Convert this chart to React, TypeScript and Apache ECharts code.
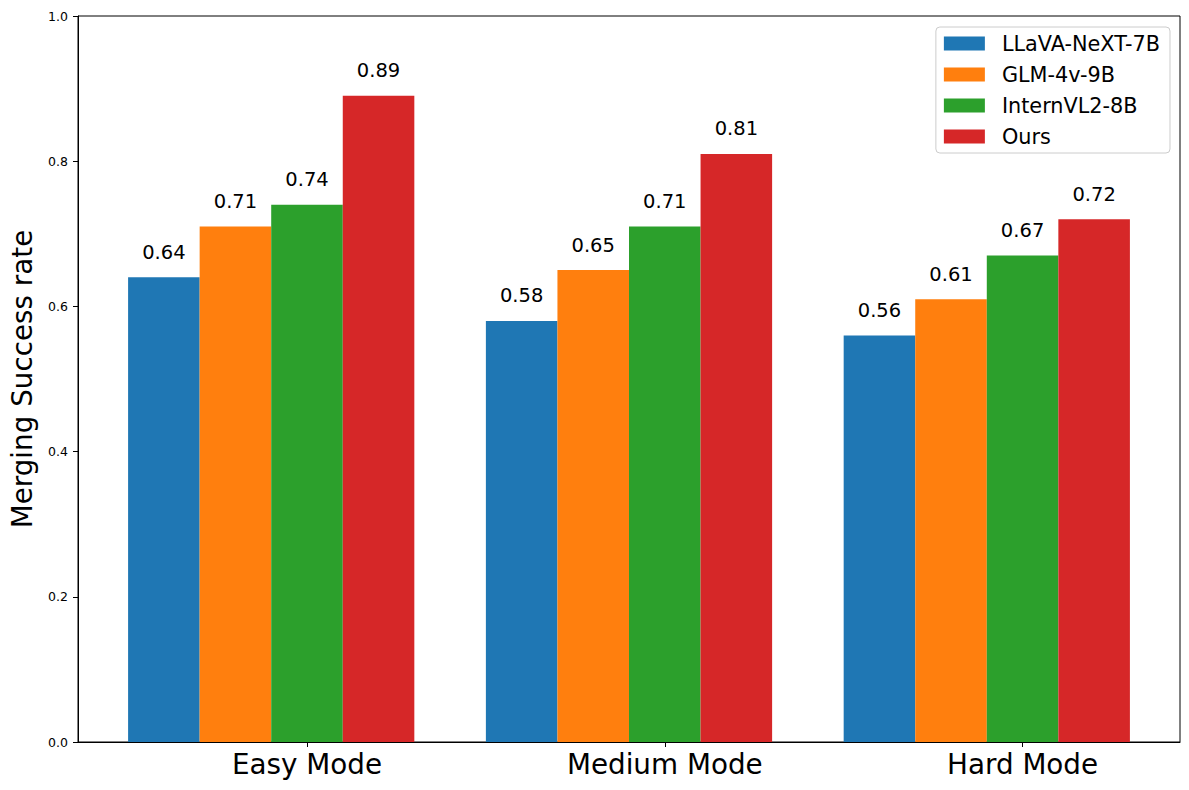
import React, { useEffect, useRef } from "react";
import * as echarts from "echarts";

const categories = ["Easy Mode", "Medium Mode", "Hard Mode"];
const seriesNames = ["LLaVA-NeXT-7B", "GLM-4v-9B", "InternVL2-8B", "Ours"];
const llavaValues = [0.64, 0.58, 0.56];
const glmValues = [0.71, 0.65, 0.61];
const internValues = [0.74, 0.71, 0.67];
const oursValues = [0.89, 0.81, 0.72];
const seriesColors = ["#1f77b4", "#ff7f0e", "#2ca02c", "#d62728"];
const barOffsets = [-0.4, -0.2, 0, 0.2];
const barWidthUnits = 0.2;
const yTicks = [0, 0.2, 0.4, 0.6, 0.8, 1.0];

const FONT = "DejaVu Sans";

export default function App() {
  const ref = useRef<HTMLDivElement>(null);
  useEffect(() => {
    document.body.style.margin = "0";
    if (!ref.current) return;
    const chart = echarts.init(ref.current, null, { renderer: "svg" });
    const allValues = [llavaValues, glmValues, internValues, oursValues];
    const series = allValues.map((vals, k) => ({
      type: "custom",
      name: seriesNames[k],
      itemStyle: { color: seriesColors[k] },
      data: vals.map((v, i) => [i + barOffsets[k], v]),
      renderItem: (params: any, api: any) => {
        const x = api.value(0);
        const y = api.value(1);
        const p0 = api.coord([x - barWidthUnits / 2, y]);
        const p1 = api.coord([x + barWidthUnits / 2, 0]);
        return {
          type: "group",
          children: [
            {
              type: "rect",
              shape: { x: p0[0], y: p0[1], width: p1[0] - p0[0], height: p1[1] - p0[1] },
              style: { fill: seriesColors[k] },
            },
            {
              type: "text",
              x: (p0[0] + p1[0]) / 2,
              y: p0[1] - 15,
              style: {
                text: y.toFixed(2),
                fill: "#000",
                fontSize: 19.5,
                fontFamily: FONT,
                align: "center",
                verticalAlign: "bottom",
              },
            },
          ],
        };
      },
    }));
    chart.setOption({
      animation: false,
      backgroundColor: "#fff",
      textStyle: { fontFamily: FONT },
      grid: {
        left: 75,
        right: 9,
        top: 16,
        bottom: 48,
        show: true,
        borderColor: "#000",
        borderWidth: 1,
        backgroundColor: "transparent",
      },
      legend: {
        data: seriesNames,
        orient: "vertical",
        right: 19,
        top: 27,
        icon: "rect",
        itemWidth: 41,
        itemHeight: 14,
        itemGap: 10,
        padding: [6, 10, 6, 8],
        borderColor: "#cccccc",
        borderWidth: 1,
        borderRadius: 4,
        backgroundColor: "rgba(255,255,255,0.8)",
        textStyle: {
          fontSize: 20.8,
          fontFamily: FONT,
          color: "#000",
          lineHeight: 20.8,
          padding: [0, 0, 0, 12],
        },
      },
      xAxis: {
        type: "value",
        min: -0.64,
        max: 2.44,
        splitLine: { show: false },
        axisLine: { show: true, onZero: false, lineStyle: { color: "#000", width: 1 } },
        axisTick: { show: true, length: 5, lineStyle: { color: "#000" }, customValues: [0, 1, 2] },
        axisLabel: {
          customValues: [0, 1, 2],
          formatter: (v: number) => categories[Math.round(v)] ?? "",
          fontSize: 27.8,
          fontFamily: FONT,
          color: "#000",
          margin: 8,
        },
      },
      yAxis: {
        type: "value",
        min: 0,
        max: 1,
        interval: 0.2,
        name: "Merging Success rate",
        nameLocation: "middle",
        nameGap: 42,
        nameTextStyle: { fontSize: 27.8, fontFamily: FONT, color: "#000" },
        splitLine: { show: false },
        axisLine: { show: true, onZero: false, lineStyle: { color: "#000", width: 1 } },
        axisTick: { show: true, length: 5, lineStyle: { color: "#000" } },
        axisLabel: {
          formatter: (v: number) => {
            const t = yTicks.find((tv) => Math.abs(tv - v) < 1e-9);
            return (t ?? v).toFixed(1);
          },
          fontSize: 12.5,
          fontFamily: FONT,
          color: "#000",
          margin: 10,
        },
      },
      series,
    });
    return () => chart.dispose();
  }, []);
  return <div ref={ref} style={{ width: 1189, height: 790 }} />;
}
